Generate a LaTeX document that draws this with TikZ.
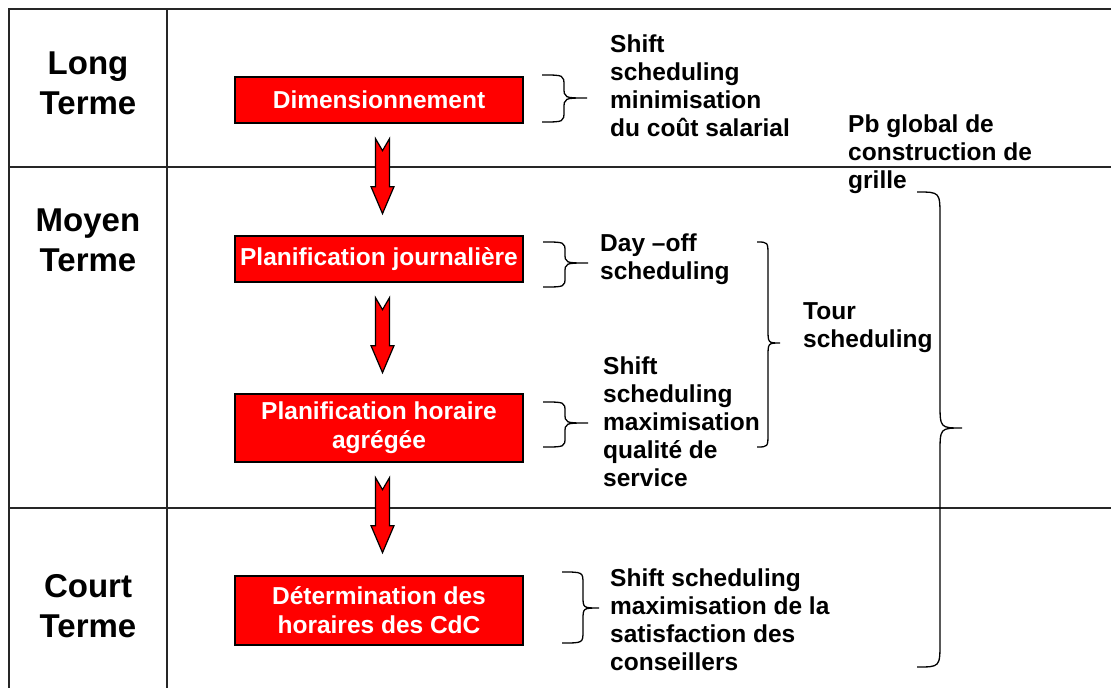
\documentclass[tikz,border=0pt]{standalone}
\usepackage{fontspec}
\setmainfont{Liberation Sans}
\usetikzlibrary{calc}
\tikzset{
  frame/.style={line width=1.6pt, draw=black!85},
  box/.style={draw=black, line width=1.3pt, fill=red, text=white,
    font=\fontsize{24.5}{29}\selectfont\bfseries, minimum width=288pt,
    align=center, inner sep=0pt},
  lbl/.style={font=\fontsize{24.5}{28}\selectfont\bfseries, align=left,
    anchor=base west, inner sep=0pt},
  term/.style={font=\fontsize{33}{40}\selectfont\bfseries, align=center,
    anchor=base, inner sep=0pt},
  brc/.style={line width=1.3pt, draw=black},
  barrow/.style={draw=black, line width=1.2pt, fill=red, line join=miter},
}
% x0 x1 x2 y0 ym y1 r
\newcommand{\mybrace}[7]{\draw[brc] (#1,#4) .. controls (#2,#4) .. (#2,#4+#7) -- (#2,#5-#7) .. controls (#2,#5) .. (#3,#5) .. controls (#2,#5) .. (#2,#5+#7) -- (#2,#6-#7) .. controls (#2,#6) .. (#1,#6);}
\newcommand{\blockarr}[1]{\begin{scope}[shift={(#1.south)}]
  \draw[barrow] (-3.5,15) -- (3.5,27) -- (10.5,15) -- (10.5,63) -- (15,63) -- (3.5,90) -- (-8,63) -- (-3.5,63) -- cycle;
\end{scope}}
\begin{document}
\begin{tikzpicture}[x=1pt,y=-1pt]
\useasboundingbox (0,0) rectangle (1111,688);
\clip (0,0) rectangle (1111,688);
\fill[white] (0,0) rectangle (1111,688);
% frame
\draw[frame] (9,700) -- (9,9) -- (1120,9);
\draw[frame] (167,9) -- (167,700);
\draw[frame] (9,167) -- (1120,167);
\draw[frame] (9,508) -- (1120,508);
% term labels (anchor = baseline of last line)
\node[term] (lt) at (88,114) {Long\\Terme};
\node[term] (mt) at (88,271) {Moyen\\Terme};
\node[term] (ct) at (88,637) {Court\\Terme};
% boxes
\node[box, minimum height=46pt] (d) at (379,100) {Dimensionnement};
\node[box, minimum height=46pt] (pj) at (379,259) {Planification journalière};
\node[box, minimum height=68pt] (ph) at (379,428) {Planification horaire\\agrégée};
\node[box, minimum height=69pt] (dh) at (379,610.5) {Détermination des\\horaires des CdC};
% block arrows
\blockarr{d}
\blockarr{pj}
\blockarr{ph}
% braces
\mybrace{542}{564}{587}{75}{98}{122}{11}
\mybrace{543}{565}{588}{242}{263}{287}{10}
\mybrace{543}{565}{588}{402}{423}{447}{10}
\mybrace{562}{583}{599}{572}{608}{643}{12}
\mybrace{757}{768}{780}{242}{343}{447}{14}
\mybrace{917}{940}{962}{192}{428}{667}{25}
% texts (anchor = baseline of last line)
\node[lbl] (t1) at (610,136) {Shift\\scheduling\\minimisation\\du coût salarial};
\node[lbl] (t2) at (848,188) {Pb global de\\construction de\\grille};
\node[lbl] (t3) at (600,279) {Day –off\\scheduling};
\node[lbl] (t4) at (803,347) {Tour\\scheduling};
\node[lbl] (t5) at (603,486) {Shift\\scheduling\\maximisation\\qualité de\\service};
\node[lbl] (t6) at (610,670) {Shift scheduling\\maximisation de la\\satisfaction des\\conseillers};
\end{tikzpicture}
\end{document}
